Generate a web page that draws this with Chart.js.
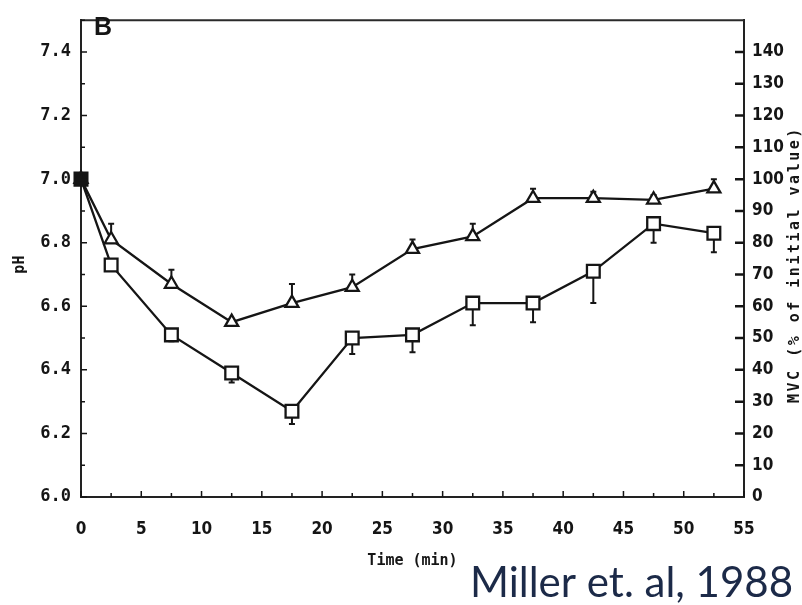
<!DOCTYPE html>
<html>
<head>
<meta charset="utf-8">
<title>pH and MVC after exercise</title>
<script src="https://cdn.jsdelivr.net/npm/chart.js@4.4.1/dist/chart.umd.min.js"></script>
<style>
  body { margin: 0; background: #fff; }
</style>
</head>
<body>
<canvas id="myChart" width="802" height="605"></canvas>
<script>
// sample times (min)
var times = [0, 2.5, 7.5, 12.5, 17.5, 22.5, 27.5, 32.5, 37.5, 42.5, 47.5, 52.5];
// triangles: MVC, % of initial value, with upper error
var mvcMean = [100, 81, 67, 55, 61, 66, 78, 82, 94, 94, 93.5, 97];
var mvcErr  = [0, 5, 4.5, 1, 6, 4, 3, 4, 3, 2, 1.5, 3];
// squares: pH, with lower error
var phMean = [7.00, 6.73, 6.51, 6.39, 6.27, 6.50, 6.51, 6.61, 6.61, 6.71, 6.86, 6.83];
var phErr  = [0, 0.01, 0.02, 0.03, 0.04, 0.05, 0.055, 0.07, 0.06, 0.10, 0.06, 0.06];

var monoFont = "'DejaVu Sans Mono', monospace";
var narrowFont = "'Liberation Sans Narrow', 'DejaVu Sans Condensed', sans-serif";
var ink = '#151515';

function points(ys) {
  return times.map(function(t, i) { return {x: t, y: ys[i]}; });
}
function firstFilled() {
  return times.map(function(t, i) { return i === 0 ? ink : '#fff'; });
}

// one-sided error bars, drawn before the markers so the white fill hides the stub
var errorBars = {
  id: 'errorBars',
  beforeDatasetsDraw: function(chart) {
    var ctx = chart.ctx;
    ctx.save();
    ctx.strokeStyle = ink;
    ctx.lineWidth = 2;
    chart.data.datasets.forEach(function(ds) {
      var scale = chart.scales[ds.yAxisID];
      ds.data.forEach(function(p, i) {
        var e = ds.errors[i];
        if (!e) return;
        var px = chart.scales.x.getPixelForValue(p.x);
        var y0 = scale.getPixelForValue(p.y);
        var y1 = scale.getPixelForValue(p.y + ds.errSign * e);
        ctx.beginPath();
        ctx.moveTo(px, y0); ctx.lineTo(px, y1);
        ctx.moveTo(px - 3, y1); ctx.lineTo(px + 3, y1);
        ctx.stroke();
      });
    });
    ctx.restore();
  }
};

// inward tick marks, top edge of the frame, axis titles and the panel letter
var frame = {
  id: 'frame',
  afterDraw: function(chart) {
    var ctx = chart.ctx, a = chart.chartArea;
    var x = chart.scales.x, y = chart.scales.y, y2 = chart.scales.y2;
    ctx.save();
    ctx.strokeStyle = '#2a2a2a';
    ctx.lineWidth = 2;
    ctx.beginPath(); ctx.moveTo(a.left, a.top); ctx.lineTo(a.right, a.top); ctx.stroke();

    ctx.strokeStyle = ink;
    ctx.lineWidth = 1.5;
    ctx.beginPath();
    x.ticks.forEach(function(t) {
      var px = x.getPixelForValue(t.value);
      var len = t.value % 5 === 0 ? 6 : 4;
      ctx.moveTo(px, a.bottom); ctx.lineTo(px, a.bottom - len);
    });
    y.ticks.forEach(function(t) {
      var py = y.getPixelForValue(t.value);
      var len = Math.round(t.value * 10) % 2 === 0 ? 6 : 4;
      ctx.moveTo(a.left, py); ctx.lineTo(a.left + len, py);
    });
    ctx.stroke();
    ctx.lineWidth = 2.5;
    ctx.beginPath();
    y2.ticks.forEach(function(t) {
      if (t.value <= 0 || t.value >= 150) return;
      var py = y2.getPixelForValue(t.value);
      ctx.moveTo(a.right, py); ctx.lineTo(a.right - 9, py);
    });
    ctx.stroke();

    ctx.fillStyle = ink;
    ctx.textBaseline = 'middle';
    ctx.textAlign = 'center';
    ctx.font = 'bold 15px ' + monoFont;
    ctx.save();
    ctx.translate(20, (a.top + a.bottom) / 2 + 6);
    ctx.rotate(-Math.PI / 2);
    ctx.fillText('pH', 0, 0);
    ctx.restore();

    ctx.save();
    ctx.font = 'bold 15px ' + monoFont;
    ctx.letterSpacing = '2.5px';
    ctx.translate(795, (a.top + a.bottom) / 2 + 6);
    ctx.rotate(-Math.PI / 2);
    ctx.fillText('MVC (% of initial value)', 0, 0);
    ctx.restore();

    ctx.font = 'bold 25px "Liberation Sans", Arial, sans-serif';
    ctx.textBaseline = 'alphabetic';
    ctx.fillText('B', 103, 35);

    ctx.textAlign = 'left';
    ctx.fillStyle = '#1c2a48';
    ctx.font = '42px Lato, "Open Sans", sans-serif';
    ctx.fillText('Miller et. al, 1988', 470, 597);
    ctx.restore();
  }
};

var ctx = document.getElementById('myChart').getContext('2d');
var myChart = new Chart(ctx, {
  type: 'line',
  data: {
    datasets: [
      {
        label: 'MVC (% of initial value)',
        data: points(mvcMean),
        errors: mvcErr,
        errSign: 1,
        yAxisID: 'y2',
        clip: false,
        borderColor: ink,
        borderWidth: 2.3,
        pointStyle: 'triangle',
        pointRadius: 7.5,
        pointBorderWidth: 2.3,
        pointBorderColor: ink,
        pointBackgroundColor: firstFilled(),
        tension: 0
      },
      {
        label: 'pH',
        data: points(phMean),
        errors: phErr,
        errSign: -1,
        yAxisID: 'y',
        clip: false,
        borderColor: ink,
        borderWidth: 2.3,
        pointStyle: 'rect',
        pointRadius: 9,
        pointBorderWidth: 2.3,
        pointBorderColor: ink,
        pointBackgroundColor: firstFilled(),
        tension: 0
      }
    ]
  },
  options: {
    responsive: false,
    animation: false,
    layout: { padding: 0 },
    plugins: { legend: { display: false }, tooltip: { enabled: false } },
    scales: {
      x: {
        type: 'linear',
        position: 'bottom',
        min: 0,
        max: 55,
        ticks: {
          stepSize: 2.5,
          autoSkip: false,
          maxRotation: 0,
          padding: 22,
          color: ink,
          font: { family: narrowFont, size: 17, weight: 'bold' },
          callback: function(v) { return v % 5 === 0 ? String(v) : ''; }
        },
        grid: { display: false, drawTicks: false },
        border: { color: '#222', width: 2 },
        title: {
          display: true,
          text: 'Time (min)',
          color: ink,
          font: { family: monoFont, size: 15, weight: 'bold' },
          padding: { top: 0, bottom: 35 }
        },
        afterFit: function(s) { s.height = 108; }
      },
      y: {
        position: 'left',
        min: 6,
        max: 7.5,
        ticks: {
          stepSize: 0.1,
          autoSkip: false,
          maxTicksLimit: 100,
          padding: 10,
          color: ink,
          font: { family: monoFont, size: 17, weight: 'bold' },
          callback: function(v) {
            var k = Math.round(v * 10);
            return (k % 2 === 0 && k < 75) ? (k / 10).toFixed(1) : '';
          }
        },
        grid: { display: false, drawTicks: false },
        border: { color: '#222', width: 2 },
        afterFit: function(s) { s.width = 81; }
      },
      y2: {
        position: 'right',
        min: 0,
        max: 150,
        ticks: {
          stepSize: 10,
          autoSkip: false,
          maxTicksLimit: 100,
          padding: 8,
          color: ink,
          font: { family: narrowFont, size: 17, weight: 'bold' },
          callback: function(v) { return v < 150 ? String(v) : ''; }
        },
        grid: { display: false, drawTicks: false },
        border: { color: '#222', width: 2 },
        afterFit: function(s) { s.width = 58; }
      }
    }
  },
  plugins: [errorBars, frame]
});
</script>
</body>
</html>
